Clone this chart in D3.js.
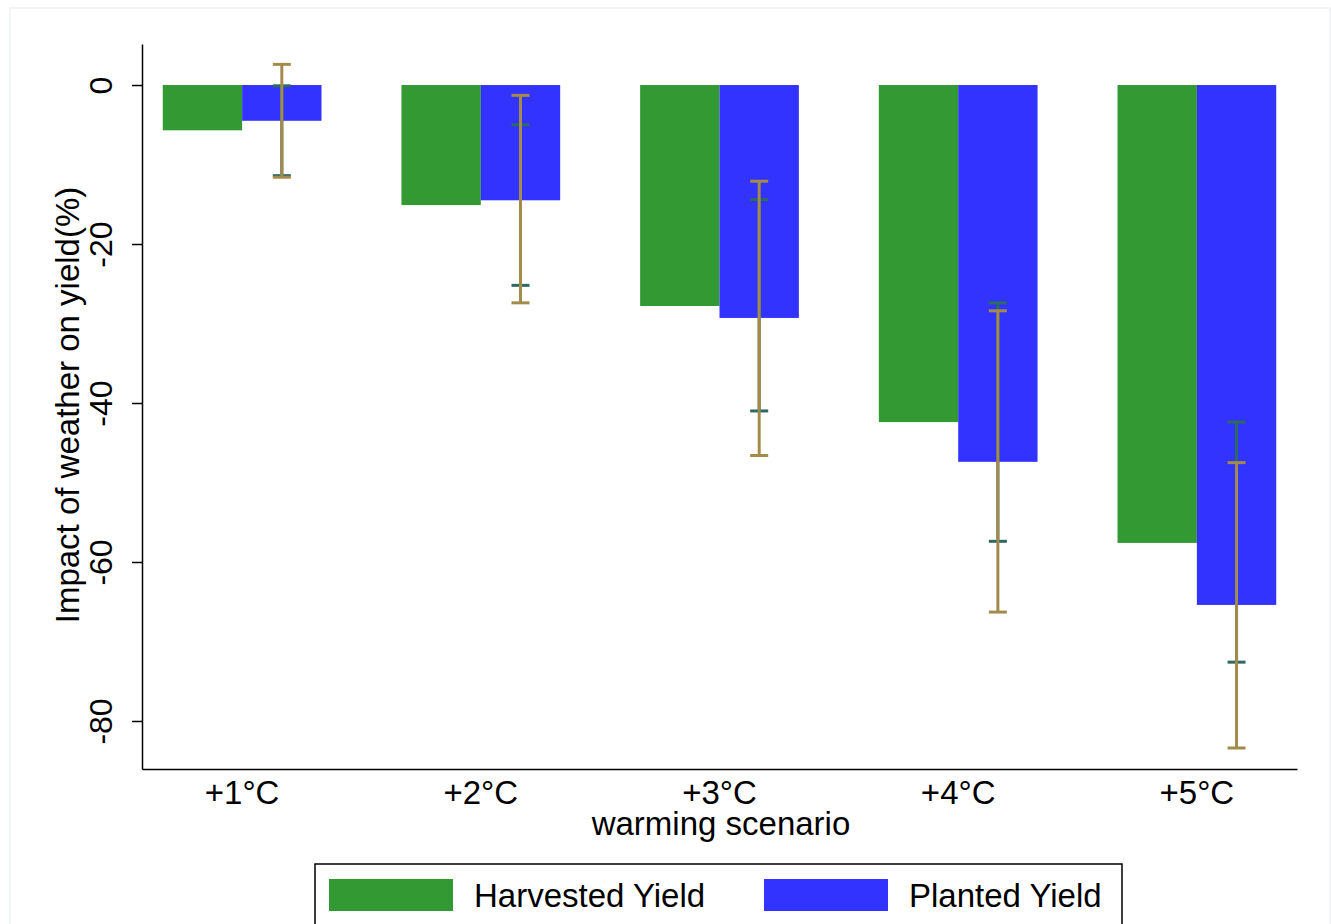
<!DOCTYPE html>
<html lang="en">
<head>
  <meta charset="utf-8">
  <title>Impact of weather on yield</title>
  <script type="text/javascript" src="https://cdn.jsdelivr.net/npm/d3@7"></script>
  <style>
    body { margin: 0; background: #fff; }
    text { font-family: "Liberation Sans", Arial, sans-serif; fill: #000; }
  </style>
</head>
<body>
  <div class="chart"></div>

  <script type="text/javascript">
    var w = 1331,
      h = 924;

    // data
    var scenarios = ["+1°C", "+2°C", "+3°C", "+4°C", "+5°C"];
    var seriesNames = ["Harvested Yield", "Planted Yield"];
    var harvested = [-5.7, -15.1, -27.8, -42.4, -57.6];
    var planted = [-4.5, -14.5, -29.3, -47.4, -65.4];
    // confidence intervals, both drawn at the planted bar
    var harvestedLo = [-11.4, -25.2, -41.0, -57.4, -72.6];
    var harvestedHi = [-0.1, -5.0, -14.4, -27.4, -42.4];
    var plantedLo = [-11.6, -27.4, -46.6, -66.3, -83.4];
    var plantedHi = [2.6, -1.3, -12.1, -28.4, -47.5];
    var yTicks = [0, -20, -40, -60, -80];

    var colors = ["#339933", "#3333ff"];
    var ciColors = ["#2d6b62", "#a38b4b"];

    var svg = d3.select('.chart')
      .append('svg')
      .attr('width', w)
      .attr('height', h);

    // faint outer frame
    svg.append('rect')
      .attr('x', 10).attr('y', 8)
      .attr('width', 1320).attr('height', 940)
      .attr('fill', 'none')
      .attr('stroke', '#eef2f2')
      .attr('stroke-width', 1.5);

    var x0 = d3.scaleBand()
      .domain(scenarios)
      .range([142, 1297])
      .paddingInner(0.335)
      .paddingOuter(0.087);

    var x1 = d3.scaleBand()
      .domain(seriesNames)
      .range([0, x0.bandwidth()]);

    var y = d3.scaleLinear()
      .domain([-86.04, 5.16])
      .range([769, 44]);

    var rows = scenarios.map(function(s, i) {
      return {
        cat: s,
        vals: [harvested[i], planted[i]],
        ci: [[harvestedLo[i], harvestedHi[i]], [plantedLo[i], plantedHi[i]]]
      };
    });

    // bars
    var groups = svg.selectAll('g.grp')
      .data(rows)
      .enter()
      .append('g')
      .attr('class', 'grp')
      .attr('transform', function(d) { return 'translate(' + x0(d.cat) + ',0)'; });

    groups.selectAll('rect')
      .data(function(d) { return d.vals.map(function(v, j) { return { name: seriesNames[j], v: v, j: j }; }); })
      .enter()
      .append('rect')
      .attr('x', function(d) { return x1(d.name); })
      .attr('y', y(0))
      .attr('width', x1.bandwidth())
      .attr('height', function(d) { return y(d.v) - y(0); })
      .style('fill', function(d) { return colors[d.j]; });

    // error bars, harvested first then planted on top
    var capW = 18;
    groups.each(function(d) {
      var g = d3.select(this);
      var cx = x1(seriesNames[1]) + x1.bandwidth() / 2;
      d.ci.forEach(function(c, j) {
        var col = ciColors[j];
        g.append('line')
          .attr('x1', cx).attr('x2', cx)
          .attr('y1', y(c[0])).attr('y2', y(c[1]))
          .attr('stroke', col).attr('stroke-width', 3);
        c.forEach(function(v) {
          g.append('line')
            .attr('x1', cx - capW / 2).attr('x2', cx + capW / 2)
            .attr('y1', y(v)).attr('y2', y(v))
            .attr('stroke', col).attr('stroke-width', 3);
        });
      });
    });

    // y axis (plain hyphen minus like the original)
    var yAxis = svg.append('g')
      .attr('transform', 'translate(142,0)')
      .call(d3.axisLeft(y).tickValues(yTicks).tickFormat(function(d) { return String(d); })
        .tickSize(10).tickSizeOuter(0));
    yAxis.select('.domain').attr('stroke-width', 1.5);
    yAxis.selectAll('.tick line').attr('stroke-width', 1.5);
    yAxis.selectAll('.tick text')
      .attr('x', 0).attr('y', 0).attr('dy', 0)
      .attr('transform', 'translate(-30,0) rotate(-90)')
      .attr('text-anchor', 'middle')
      .style('font-size', '32px')
      .style('font-family', '"Liberation Sans", Arial, sans-serif');

    // x axis
    var xAxis = svg.append('g')
      .attr('transform', 'translate(0,769)')
      .call(d3.axisBottom(x0).tickSize(0).tickSizeOuter(0));
    xAxis.select('.domain').attr('stroke-width', 1.5);
    xAxis.selectAll('.tick text')
      .attr('y', 35).attr('dy', 0)
      .style('font-size', '33px')
      .style('font-family', '"Liberation Sans", Arial, sans-serif');

    // axis titles
    svg.append('text')
      .attr('transform', 'translate(79,405) rotate(-90)')
      .attr('text-anchor', 'middle')
      .style('font-size', '33px')
      .text('Impact of weather on yield(%)');

    svg.append('text')
      .attr('x', 721).attr('y', 835)
      .attr('text-anchor', 'middle')
      .style('font-size', '33px')
      .text('warming scenario');

    // legend
    var legend = svg.append('g');
    legend.append('rect')
      .attr('x', 315).attr('y', 864)
      .attr('width', 807).attr('height', 90)
      .attr('fill', '#fff')
      .attr('stroke', '#000')
      .attr('stroke-width', 1.5);

    var legendX = [329, 764];
    seriesNames.forEach(function(name, j) {
      legend.append('rect')
        .attr('x', legendX[j]).attr('y', 879)
        .attr('width', 124).attr('height', 32)
        .style('fill', colors[j]);
      legend.append('text')
        .attr('x', legendX[j] + 145).attr('y', 907)
        .style('font-size', '33px')
        .text(name);
    });
  </script>
</body>
</html>
